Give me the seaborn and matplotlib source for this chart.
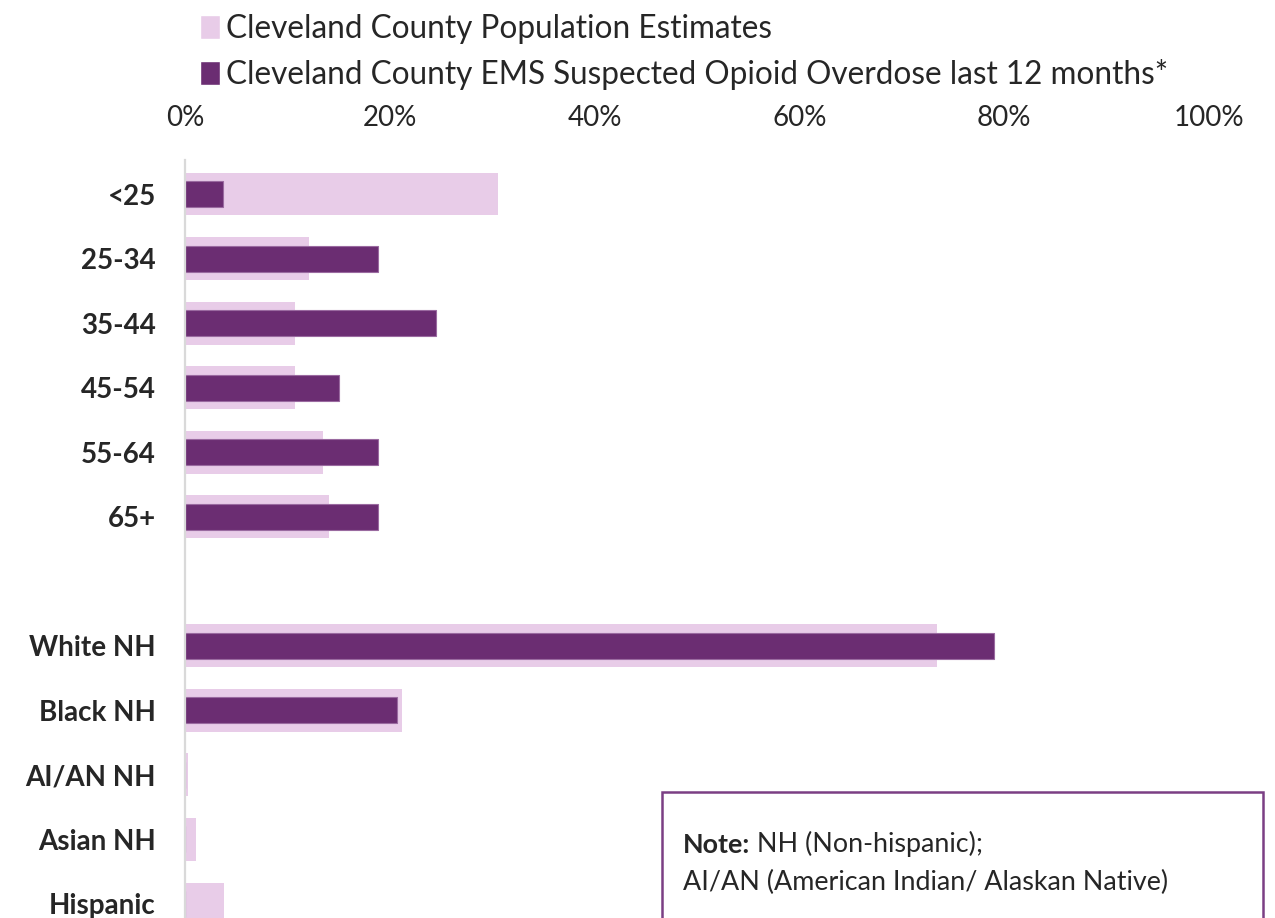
import pandas as pd
import numpy as np
import matplotlib.pyplot as plt
import seaborn as sns
from matplotlib.patches import Patch, Rectangle
from matplotlib.ticker import PercentFormatter

# share of each group (fraction of total)
groups = ['<25', '25-34', '35-44', '45-54', '55-64', '65+',
          'White NH', 'Black NH', 'AI/AN NH', 'Asian NH', 'Hispanic']
population = [0.306, 0.121, 0.107, 0.107, 0.135, 0.141,
              0.734, 0.212, 0.003, 0.011, 0.038]
ems_overdose = [0.037, 0.188, 0.245, 0.150, 0.188, 0.188,
                0.790, 0.207, 0.0, 0.0, 0.0]
order = groups[:6] + [' '] + groups[6:]

pop_label = 'Cleveland County Population Estimates'
ems_label = 'Cleveland County EMS Suspected Opioid Overdose last 12 months*'

light = '#E8CCE8'
dark = '#6B2D72'

df = pd.DataFrame({'group': groups, 'pop': population, 'ems': ems_overdose})

sns.set_style('white')
plt.rcParams['font.family'] = ['Lato', 'DejaVu Sans']

fig = plt.figure(figsize=(12.75, 9.18), dpi=100)
ax = fig.add_axes([185/1275, 0.0, 1024/1275, 1 - 160/918])

sns.barplot(data=df, x='pop', y='group', order=order, orient='h',
            color=light, width=0.66, linewidth=0, errorbar=None,
            saturation=1, ax=ax)
sns.barplot(data=df, x='ems', y='group', order=order, orient='h',
            color=dark, width=0.40, edgecolor='#9A6AA0', linewidth=0.8,
            errorbar=None, saturation=1, ax=ax)

ax.set_xlim(0, 1)
ax.set_ylim(11.22, -0.53)
ax.set_xticks(np.arange(0, 1.01, 0.2))
ax.xaxis.set_major_formatter(PercentFormatter(1.0, decimals=0))
ax.xaxis.tick_top()
ax.tick_params(axis='x', length=0, pad=21, labelsize=20)
ax.tick_params(axis='y', length=0, pad=21, labelsize=20)
for lab in ax.get_yticklabels():
    lab.set_fontweight('bold')
ax.set_xlabel('')
ax.set_ylabel('')
for s in ['top', 'right', 'bottom']:
    ax.spines[s].set_visible(False)
ax.spines['left'].set_color('#D9D9D9')
ax.spines['left'].set_linewidth(1.6)

handles = [Patch(facecolor=light, label=pop_label),
           Patch(facecolor=dark, label=ems_label)]
fig.legend(handles=handles, loc='upper left', bbox_to_anchor=(200/1275, 0.985),
           frameon=False, fontsize=22.7, handlelength=0.62, handleheight=0.8,
           handletextpad=0.22, labelspacing=0.48, borderpad=0, borderaxespad=0)

# note box (runs off the bottom edge)
box = Rectangle((662/1275, -0.05), 601/1275, (918-792)/918 + 0.05,
                transform=fig.transFigure, fill=False, edgecolor='#7B3F84',
                linewidth=1.8, clip_on=False)
fig.patches.append(box)
note = fig.text(683/1275, 1 - 845/918, 'Note:', fontsize=19.4,
                fontweight='bold', va='center', ha='left')
ax.annotate(' NH (Non-hispanic);', xy=(1, 0), xycoords=note, fontsize=19.4,
            va='bottom', ha='left', annotation_clip=False)
fig.text(683/1275, 1 - 882/918, 'AI/AN (American Indian/ Alaskan Native)',
         fontsize=19.4, va='center', ha='left')

fig.savefig('out.png', dpi=100)
